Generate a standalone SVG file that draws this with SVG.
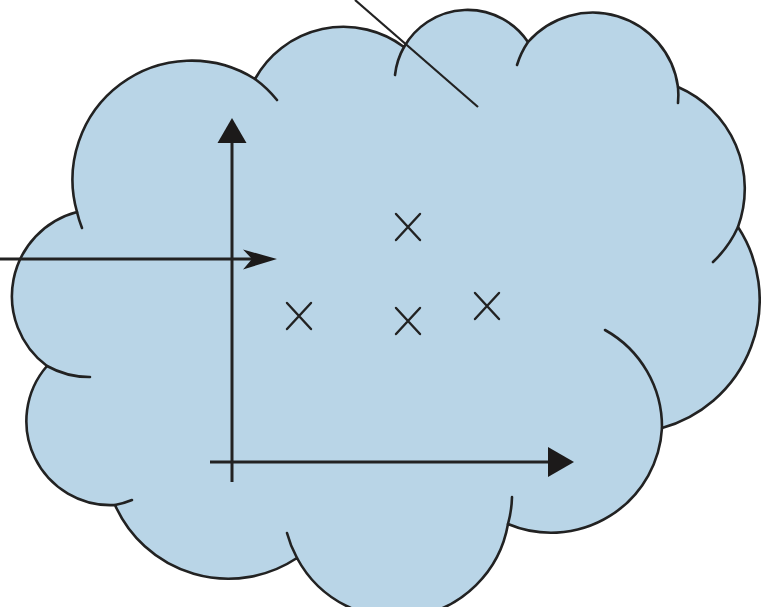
<svg xmlns="http://www.w3.org/2000/svg" width="761" height="607" viewBox="0 0 761 607">
  <defs>
    <style>
      .cloud { fill: #b9d5e7; stroke: #222; stroke-width: 2.6; stroke-linejoin: round; }
      .tail { fill: none; stroke: #222; stroke-width: 2.6; stroke-linecap: round; }
      .axis { fill: none; stroke: #222; stroke-width: 3; }
      .head { fill: #1c1a1a; stroke: none; }
      .mark { fill: none; stroke: #222; stroke-width: 2.4; stroke-linecap: round; }
      .thin { fill: none; stroke: #222; stroke-width: 2.2; }
    </style>
  </defs>
  <rect width="761" height="607" fill="#ffffff"/>

  <g id="cloud">
    <path class="cloud" d="M47,366 A87,87 0 0 1 77,212 A119,119 0 0 1 255,79 A101,101 0 0 1 404,47 A73,73 0 0 1 528,42 A86,86 0 0 1 678,87 A111,111 0 0 1 738,227 A133,133 0 0 1 662,428 A111,111 0 0 1 508,524 A113,113 0 0 1 297,558 A124,124 0 0 1 115,505 A84,84 0 0 1 47,366 Z"/>
    <path class="tail" d="M82,228 A119,119 0 0 1 77,212"/>
    <path class="tail" d="M255,79 A119,119 0 0 1 277,100"/>
    <path class="tail" d="M395,75 A73,73 0 0 1 404,47"/>
    <path class="tail" d="M517,65 A86,86 0 0 1 528,42"/>
    <path class="tail" d="M678,87 A86,86 0 0 1 678,103"/>
    <path class="tail" d="M738,227 A111,111 0 0 1 713,262"/>
    <path class="tail" d="M605,330 A111,111 0 0 1 662,428"/>
    <path class="tail" d="M512,497 A113,113 0 0 1 508,524"/>
    <path class="tail" d="M297,558 A113,113 0 0 1 287,533"/>
    <path class="tail" d="M132,500 A84,84 0 0 1 115,505"/>
    <path class="tail" d="M90,377 A87,87 0 0 1 47,366"/>
  </g>

  <g id="connectors">
    <line class="thin" x1="355" y1="0" x2="478" y2="107"/>
    <line class="axis" x1="232" y1="140" x2="232" y2="482"/>
    <polygon class="head" points="232,118 246.5,143 217.5,143"/>
    <line class="axis" x1="210" y1="462" x2="551" y2="462"/>
    <polygon class="head" points="574,462 548,447 548,477"/>
    <line class="axis" x1="0" y1="259" x2="255" y2="259"/>
    <polygon class="head" points="277,259 243,249.5 252,259 243,269.5"/>
  </g>

  <g id="point-1"><path class="mark" d="M396,214 L420,240 M420,214 L396,240"/></g>
  <g id="point-2"><path class="mark" d="M287,303 L311,329 M311,303 L287,329"/></g>
  <g id="point-3"><path class="mark" d="M396,308 L420,334 M420,308 L396,334"/></g>
  <g id="point-4"><path class="mark" d="M475,293 L499,319 M499,293 L475,319"/></g>
</svg>
